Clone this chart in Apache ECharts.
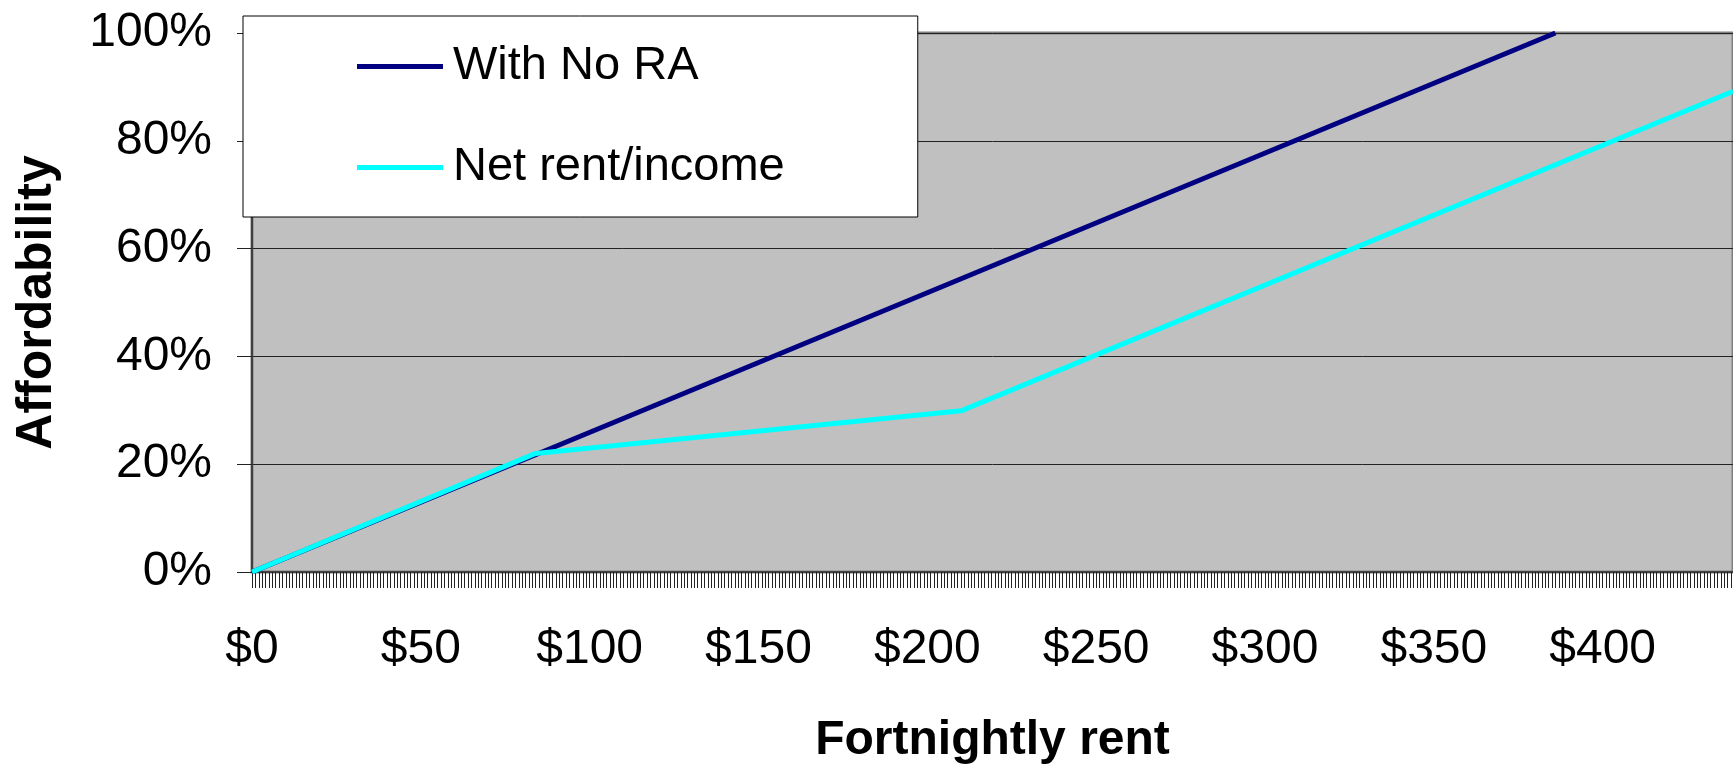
<!DOCTYPE html>
<html>
<head>
<meta charset="utf-8">
<script src="https://cdn.jsdelivr.net/npm/echarts@6/dist/echarts.min.js"></script>
<style>
  html, body { margin: 0; padding: 0; background: #fff; }
</style>
</head>
<body>
<div id="main" style="width: 1733px;height:765px;"></div>
<script type="text/javascript">
    // 数据
    var noRaRent = [0, 386];
    var noRaShare = [0, 100];
    var netRent = [0, 84, 210, 438.6];
    var netShare = [0, 22, 29.9, 89.2];
    var rentMax = 438.6;

    function pairs(xs, ys) {
        return xs.map(function (x, i) { return [x, ys[i]]; });
    }

    var font = "'Liberation Sans', Arial, sans-serif";
    var myChart = echarts.init(document.getElementById('main'));

    var option = {
        animation: false,
        textStyle: { fontFamily: font },
        grid: {
            left: 252,
            right: 0,
            top: 33,
            bottom: 193,
            outerBoundsMode: 'none',
            show: true,
            backgroundColor: '#C0C0C0',
            borderColor: '#808080',
            borderWidth: 3
        },
        legend: {
            orient: 'vertical',
            left: 243,
            top: 16,
            padding: [27, 133, 26, 114],
            itemWidth: 86,
            itemHeight: 5,
            itemGap: 54,
            icon: 'rect',
            backgroundColor: '#fff',
            borderColor: '#000',
            borderWidth: 1,
            textStyle: {
                fontSize: 47,
                color: '#000',
                fontFamily: font,
                padding: [0, 0, 0, 5]
            },
            data: ['With No RA', 'Net rent/income']
        },
        xAxis: [
            {
                type: 'value',
                min: 0,
                max: rentMax,
                interval: 50,
                name: 'Fortnightly rent',
                nameLocation: 'middle',
                nameGap: 145,
                nameTextStyle: { fontSize: 48, fontWeight: 'bold', color: '#000', fontFamily: font },
                axisLine: { show: true, lineStyle: { color: '#404040', width: 2 } },
                axisTick: { show: false },
                splitLine: { show: false },
                axisLabel: {
                    fontSize: 48,
                    color: '#000',
                    margin: 54,
                    showMaxLabel: false,
                    formatter: function (v) { return '$' + v; }
                }
            },
            {
                // 细刻度：每 $1 一个
                type: 'value',
                min: 0,
                max: rentMax,
                interval: 1,
                position: 'bottom',
                axisLine: { show: false },
                axisTick: { show: true, length: 16, lineStyle: { color: '#222', width: 1 } },
                axisLabel: { show: false },
                splitLine: { show: false }
            }
        ],
        yAxis: {
            type: 'value',
            min: 0,
            max: 100,
            interval: 20,
            name: 'Affordability',
            nameLocation: 'middle',
            nameGap: 190,
            nameTextStyle: { fontSize: 50, fontWeight: 'bold', color: '#000', fontFamily: font },
            axisLine: { show: true, lineStyle: { color: '#404040', width: 2 } },
            axisTick: { show: true, length: 15, lineStyle: { color: '#222', width: 1 } },
            splitLine: { show: true, lineStyle: { color: '#222', width: 1 } },
            axisLabel: {
                fontSize: 48,
                color: '#000',
                margin: 40,
                formatter: '{value}%'
            }
        },
        series: [
            {
                name: 'With No RA',
                type: 'line',
                symbol: 'none',
                clip: true,
                lineStyle: { color: '#000080', width: 5 },
                itemStyle: { color: '#000080' },
                data: pairs(noRaRent, noRaShare)
            },
            {
                name: 'Net rent/income',
                type: 'line',
                symbol: 'none',
                clip: true,
                lineStyle: { color: '#00FFFF', width: 5 },
                itemStyle: { color: '#00FFFF' },
                data: pairs(netRent, netShare)
            }
        ]
    };
    myChart.setOption(option);
</script>
</body>
</html>
